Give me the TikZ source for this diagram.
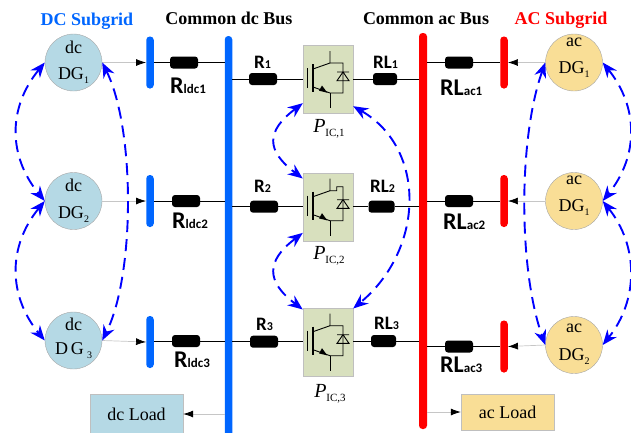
\documentclass[tikz,border=0pt]{standalone}
\usepackage{fontspec}
\setmainfont{Liberation Serif}
\newfontfamily\tagfont{Carlito}
\usetikzlibrary{arrows.meta}
\definecolor{dcblue}{HTML}{0066FF}
\definecolor{dcfill}{HTML}{B5D9E5}
\definecolor{acfill}{HTML}{F9DE96}
\definecolor{icfill}{HTML}{D8E0BE}
\newcommand{\bigtag}[2]{{\fontsize{24}{24}\selectfont #1}{\fontsize{13}{13}\selectfont #2}}
\newcommand{\smalltag}[2]{{\fontsize{19}{19}\selectfont #1}{\fontsize{12}{12}\selectfont #2}}
\newcommand{\icname}[1]{\textit{P}\raisebox{-3.5pt}{\fontsize{11}{11}\selectfont IC,#1}}
\newcommand{\dgname}[1]{DG\raisebox{-4pt}{\fontsize{10}{10}\selectfont #1}}

\begin{document}
\begin{tikzpicture}[x=1pt, y=-1pt, font=\fontsize{18}{18}\selectfont]
    % looks of the parts
    \tikzset{
        title/.style={font=\fontsize{18}{18}\selectfont\bfseries, anchor=base, inner sep=0pt},
        tag/.style={font=\tagfont\bfseries, anchor=base west, inner sep=0pt},
        icname/.style={font=\fontsize{20}{20}\selectfont, inner sep=0pt},
        dgdc/.style={circle, draw=gray!70, fill=dcfill, minimum size=57pt, inner sep=0pt},
        dgac/.style={circle, draw=gray!70, fill=acfill, minimum size=57pt, inner sep=0pt},
        feeder/.style={rectangle, rounded corners=3.5pt, minimum width=7.5pt, minimum height=52pt, inner sep=0pt},
        mainbus/.style={rectangle, rounded corners=3.5pt, minimum width=7.5pt, inner sep=0pt},
        res/.style={rectangle, rounded corners=3pt, fill=black, minimum width=28pt, minimum height=12pt, inner sep=0pt},
        conv/.style={rectangle, draw=gray!50, fill=icfill, minimum width=50pt, minimum height=68pt, inner sep=0pt},
        load/.style={rectangle, draw=gray!50, minimum width=93pt, minimum height=40pt, inner sep=0pt},
        wire/.style={draw=black, line width=0.9pt},
        source/.style={draw=gray!45, line width=0.7pt, -{Latex[black, length=10pt, width=7pt]}},
        comm/.style={draw=blue, line width=1.9pt, dash pattern=on 12pt off 7pt,
            {Stealth[length=15pt, width=12pt]}-{Stealth[length=15pt, width=12pt]}},
        pics/igbt/.style={code={
            \draw[line width=0.9pt] (-20.7,-11) -- (-20.7,9);
            \draw[line width=1.2pt] (-15,-15) -- (-15,13);
            \draw[line width=0.9pt] (2,-28) -- (2,-16) -- (-15,-10);
            \draw[line width=0.9pt] (2,-16) -- (8.7,-16) -- (8.7,-16-#1) -- (15,-16-#1) -- (15,14) -- (2,14) -- (-15,8);
            \draw[line width=0.9pt] (2,14) -- (2,29);
            \draw[line width=0.9pt] (9,-7) -- (21,-7) (15,-7) -- (9,1.7) -- (21,1.7) -- cycle;
            \fill (-0.7,13.7) -- (-9,11.7) -- (-6,6.5) -- cycle;
        }}
    }
    \useasboundingbox (0,0) rectangle (631,432);

    % titles
    \node[title, text=dcblue] (titledc) at (87,25) {DC Subgrid};
    \node[title] (titlebusdc) at (229,24) {Common dc Bus};
    \node[title] (titlebusac) at (426,24) {Common ac Bus};
    \node[title, text=red] (titleac) at (561,24) {AC Subgrid};

    % dc sources
    \node[dgdc, label={[yshift=15pt]center:dc}, label={[yshift=-13pt]center:\dgname{1}}] (dgdc1) at (73.5,62.5) {};
    \node[dgdc, label={[yshift=16pt]center:dc}, label={[yshift=-14pt]center:\dgname{2}}] (dgdc2) at (73.5,201) {};
    \node[dgdc, label={[yshift=16pt]center:dc}, label={[yshift=-10pt]center:D\,G\,\raisebox{-4pt}{\fontsize{10}{10}\selectfont 3}}] (dgdc3) at (73.5,340.5) {};

    % ac sources
    \node[dgac, label={[yshift=20pt]center:ac}, label={[yshift=-7pt]center:\dgname{1}}] (dgac1) at (574,62.5) {};
    \node[dgac, label={[yshift=21pt]center:ac}, label={[yshift=-7pt]center:\dgname{1}}] (dgac2) at (574,201) {};
    \node[dgac, label={[yshift=17pt]center:ac}, label={[yshift=-12pt]center:\dgname{2}}] (dgac3) at (574,345) {};

    % buses
    \node[feeder, fill=dcblue] (feeddc1) at (150,62.5) {};
    \node[feeder, fill=dcblue] (feeddc2) at (150,201) {};
    \node[feeder, fill=dcblue] (feeddc3) at (150,342) {};
    \node[mainbus, fill=dcblue, minimum height=404pt] (busdc) at (228.5,238) {};
    \node[mainbus, fill=red, minimum width=8pt, minimum height=396pt] (busac) at (423,231) {};
    \node[feeder, fill=red] (feedac1) at (504,62.5) {};
    \node[feeder, fill=red] (feedac2) at (504,201) {};
    \node[feeder, fill=red] (feedac3) at (504,346.5) {};

    % line resistors
    \node[res] (rdc1) at (184,62.5) {};
    \node[res] (rdc2) at (186,201) {};
    \node[res] (rdc3) at (186,341) {};
    \node[res] (r1) at (263,79) {};
    \node[res] (r2) at (264,206.7) {};
    \node[res] (r3) at (264,341.7) {};
    \node[res, minimum width=24pt] (rl1) at (385,79) {};
    \node[res, minimum width=26pt] (rl2) at (381.5,206.7) {};
    \node[res, minimum width=25pt] (rl3) at (383.5,341) {};
    \node[res] (rac1) at (459,62.5) {};
    \node[res] (rac2) at (459,201) {};
    \node[res] (rac3) at (459,346.5) {};

    % interlinking converters
    \node[conv] (ic1) at (328,79) {};
    \node[conv] (ic2) at (328,206.7) {};
    \node[conv] (ic3) at (328,341.7) {};
    \pic at (ic1) {igbt=0};
    \pic at (ic2) {igbt=4};
    \pic at (ic3) {igbt=0};
    \node[icname] (nameic1) at (329,129) {\icname{1}};
    \node[icname] (nameic2) at (329,256) {\icname{2}};
    \node[icname] (nameic3) at (330,394) {\icname{3}};

    % loads
    \node[load, fill=dcfill] (loaddc) at (136.5,414) {dc Load};
    \node[load, fill=acfill, minimum height=36pt] (loadac) at (507.5,412) {ac Load};

    % resistor names
    \node[tag] (tagdc1) at (170,93) {\bigtag{R}{ldc1}};
    \node[tag] (tagdc2) at (172,228) {\bigtag{R}{ldc2}};
    \node[tag] (tagdc3) at (174,367.7) {\bigtag{R}{ldc3}};
    \node[tag] (tagr1) at (254,68) {\smalltag{R}{1}};
    \node[tag] (tagr2) at (254,192) {\smalltag{R}{2}};
    \node[tag] (tagr3) at (256,330) {\smalltag{R}{3}};
    \node[tag] (tagl1) at (373,68) {\smalltag{RL}{1}};
    \node[tag] (tagl2) at (370,192) {\smalltag{RL}{2}};
    \node[tag] (tagl3) at (374,329) {\smalltag{RL}{3}};
    \node[tag] (tagac1) at (440,95) {\bigtag{RL}{ac1}};
    \node[tag] (tagac2) at (443,229) {\bigtag{RL}{ac2}};
    \node[tag] (tagac3) at (440,372) {\bigtag{RL}{ac3}};

    % wires through the resistors
    \draw[wire] (feeddc1) -- (rdc1) -- (rdc1 -| busdc.west);
    \draw[wire] (feeddc2.east) -- (rdc2) -- (rdc2 -| busdc.west);
    \draw[wire] (feeddc3.east |- rdc3) -- (rdc3) -- (rdc3 -| busdc.west);
    \draw[wire] (r1 -| busdc.east) -- (r1) -- (ic1.west);
    \draw[wire] (r2 -| busdc.east) -- (r2) -- (ic2.west);
    \draw[wire] (r3 -| busdc.east) -- (r3) -- (ic3.west);
    \draw[wire] (ic1.east) -- (rl1) -- (rl1 -| busac.west);
    \draw[wire] (ic2.east) -- (rl2) -- (rl2 -| busac.west);
    \draw[wire] (ic3.east |- rl3) -- (rl3) -- (rl3 -| busac.west);
    \draw[wire] (rac1 -| busac.east) -- (rac1) -- (feedac1);
    \draw[wire] (rac2 -| busac.east) -- (rac2) -- (feedac2.west);
    \draw[wire] (rac3 -| busac.east) -- (rac3) -- (feedac3.west);

    % sources and loads
    \draw[source] (dgdc1.east) -- (feeddc1.west);
    \draw[source] (dgdc2.east) -- (feeddc2.west);
    \draw[source] (dgdc3.east) -- (feeddc3.west);
    \draw[source] (dgac1.west) -- (feedac1.east);
    \draw[source] (dgac2.west) -- (feedac2.east);
    \draw[source] (dgac3.west) -- (feedac3.east);
    \draw[source] (loaddc -| busdc.west) -- (loaddc.east);
    \draw[source] (loadac -| busac.east) -- (loadac.west);

    % communication links
    \draw[comm] (dgdc1.west) .. controls +(-37,45) and +(-37,-45) .. (dgdc2.west);
    \draw[comm] (dgdc2.west) .. controls +(-37,45) and +(-37,-45) .. (dgdc3.west);
    \draw[comm] (dgdc1.east) .. controls +(33,66) and +(33,-66) .. (dgdc3.east);
    \draw[comm] ([yshift=10pt]ic1.south west) .. controls +(-37,28) and +(-37,-28) .. ([yshift=-6pt]ic2.north west);
    \draw[comm] ([yshift=8pt]ic2.south west) .. controls +(-37,28) and +(-37,-28) .. ([yshift=-2pt]ic3.north west);
    \draw[comm] ([yshift=7pt]ic1.south east) .. controls +(73,42) and +(72,-60) .. ([yshift=-1pt]ic3.north east);
    \draw[comm] (dgac1.west) .. controls +(-27,76) and +(-27,-76) .. (dgac3.west);
    \draw[comm] (dgac1.east) .. controls +(36,45) and +(36,-45) .. (dgac2.east);
    \draw[comm] (dgac2.east) .. controls +(36,45) and +(36,-45) .. (dgac3.east);
\end{tikzpicture}
\end{document}
